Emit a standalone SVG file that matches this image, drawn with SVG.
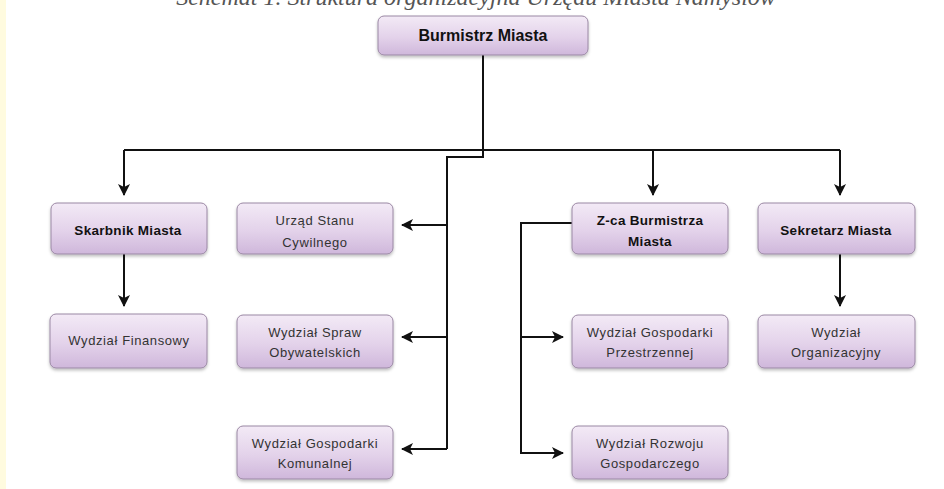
<svg xmlns="http://www.w3.org/2000/svg" width="944" height="489" viewBox="0 0 944 489">
  <defs>
    <linearGradient id="fill" x1="0" y1="0" x2="0" y2="1">
      <stop offset="0" stop-color="#f3eaf6"/>
      <stop offset="0.55" stop-color="#e3d2ea"/>
      <stop offset="1" stop-color="#cfb7db"/>
    </linearGradient>
    <filter id="sh" x="-10%" y="-10%" width="120%" height="140%">
      <feDropShadow dx="0" dy="2" stdDeviation="1.5" flood-color="#000" flood-opacity="0.25"/>
    </filter>
    <marker id="arr" viewBox="0 0 12 12" refX="11" refY="6" markerWidth="12" markerHeight="12" markerUnits="userSpaceOnUse" orient="auto">
      <path d="M0,0 L12,6 L0,12 L3,6 z" fill="#111"/>
    </marker>
  </defs>
  <style>
    .box { fill: url(#fill); stroke: #9a88a4; stroke-width: 1; filter: url(#sh); }
    .t { font-family: "Liberation Sans", Arial, sans-serif; font-size: 13px; fill: #333; text-anchor: middle; letter-spacing: 0.6px; }
    .b { font-family: "Liberation Sans", Arial, sans-serif; font-size: 13.5px; font-weight: bold; fill: #111; text-anchor: middle; letter-spacing: 0.3px; }
    .bn { font-family: "Liberation Sans", Arial, sans-serif; font-size: 16px; font-weight: bold; fill: #111; text-anchor: middle; }
    .c { fill: none; stroke: #111; stroke-width: 2; }
    .title { font-family: "Liberation Serif", "Times New Roman", serif; font-style: italic; font-size: 24px; fill: #555; text-anchor: middle; }
  </style>
  <rect x="0" y="0" width="944" height="489" fill="#ffffff"/>
  <rect x="0" y="0" width="6" height="489" fill="#fffbdf"/>
  <text class="title" x="476" y="5">Schemat 1. Struktura organizacyjna Urzędu Miasta Namysłów</text>

  <g id="connectors">
    <path class="c" d="M483,55 V157 H447 V449"/>
    <path class="c" d="M124,150 H840"/>
    <path class="c" d="M124,150 V195" marker-end="url(#arr)"/>
    <path class="c" d="M653,150 V195" marker-end="url(#arr)"/>
    <path class="c" d="M840,150 V195" marker-end="url(#arr)"/>
    <path class="c" d="M124,254 V306" marker-end="url(#arr)"/>
    <path class="c" d="M840,254 V306" marker-end="url(#arr)"/>
    <path class="c" d="M447,225 H402" marker-end="url(#arr)"/>
    <path class="c" d="M447,337 H402" marker-end="url(#arr)"/>
    <path class="c" d="M447,449 H402" marker-end="url(#arr)"/>
    <path class="c" d="M572,223 H521 V453 H563" marker-end="url(#arr)"/>
    <path class="c" d="M521,337 H563" marker-end="url(#arr)"/>
  </g>

  <g id="burmistrz">
    <rect class="box" x="378" y="16" width="210" height="39" rx="6"/>
    <text class="bn" x="483" y="41">Burmistrz Miasta</text>
  </g>
  <g id="skarbnik">
    <rect class="box" x="51" y="203" width="156" height="51" rx="6"/>
    <text class="b" x="128" y="235">Skarbnik Miasta</text>
  </g>
  <g id="usc">
    <rect class="box" x="237" y="203" width="156" height="51" rx="6"/>
    <text class="t" x="315" y="225">Urząd Stanu</text>
    <text class="t" x="315" y="247">Cywilnego</text>
  </g>
  <g id="zca">
    <rect class="box" x="572" y="203" width="156" height="51" rx="6"/>
    <text class="b" x="650" y="225">Z-ca Burmistrza</text>
    <text class="b" x="650" y="246">Miasta</text>
  </g>
  <g id="sekretarz">
    <rect class="box" x="758" y="203" width="157" height="51" rx="6"/>
    <text class="b" x="836" y="235">Sekretarz Miasta</text>
  </g>
  <g id="finansowy">
    <rect class="box" x="50" y="314" width="157" height="54" rx="6"/>
    <text class="t" x="129" y="345">Wydział Finansowy</text>
  </g>
  <g id="spraw">
    <rect class="box" x="237" y="315" width="156" height="53" rx="6"/>
    <text class="t" x="315" y="337">Wydział Spraw</text>
    <text class="t" x="315" y="357">Obywatelskich</text>
  </g>
  <g id="przestrzennej">
    <rect class="box" x="572" y="315" width="156" height="53" rx="6"/>
    <text class="t" x="650" y="337">Wydział Gospodarki</text>
    <text class="t" x="650" y="357">Przestrzennej</text>
  </g>
  <g id="organizacyjny">
    <rect class="box" x="758" y="315" width="157" height="53" rx="6"/>
    <text class="t" x="836" y="337">Wydział</text>
    <text class="t" x="836" y="357">Organizacyjny</text>
  </g>
  <g id="komunalnej">
    <rect class="box" x="237" y="426" width="156" height="53" rx="6"/>
    <text class="t" x="315" y="448">Wydział Gospodarki</text>
    <text class="t" x="315" y="468">Komunalnej</text>
  </g>
  <g id="rozwoju">
    <rect class="box" x="572" y="426" width="156" height="53" rx="6"/>
    <text class="t" x="650" y="448">Wydział Rozwoju</text>
    <text class="t" x="650" y="468">Gospodarczego</text>
  </g>
</svg>
